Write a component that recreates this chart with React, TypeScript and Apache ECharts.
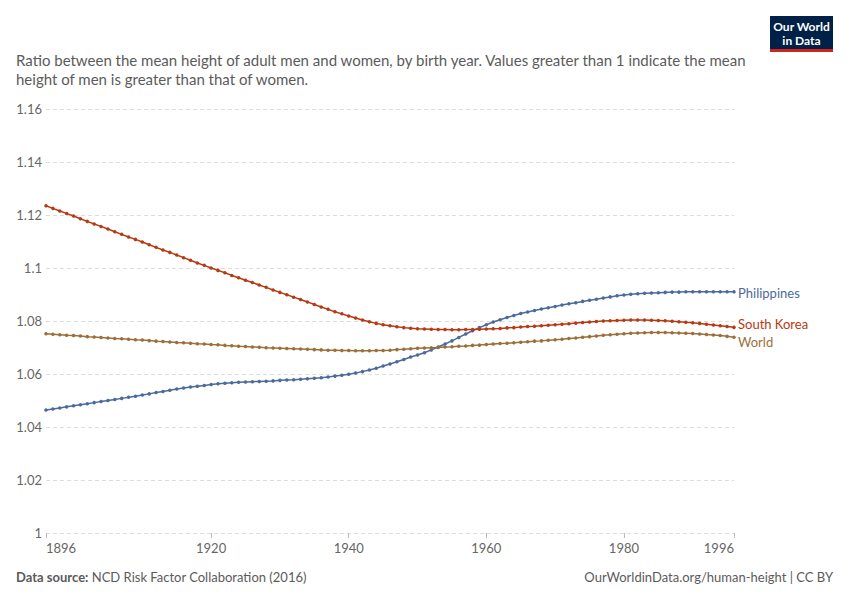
import * as echarts from 'echarts';
import { useEffect, useRef } from 'react';

const startYear = 1896;
const xTicks = [1896, 1920, 1940, 1960, 1980, 1996];

const philippines = [
  1.0464, 1.0468, 1.0472, 1.0476, 1.0480, 1.0484, 1.0488, 1.0492, 1.0496, 1.0500,
  1.0504, 1.0508, 1.0512, 1.0516, 1.0521, 1.0525, 1.0530, 1.0534, 1.0539, 1.0543,
  1.0547, 1.0551, 1.0554, 1.0557, 1.0560, 1.0563, 1.0565, 1.0567, 1.0569, 1.0570,
  1.0571, 1.0572, 1.0573, 1.0574, 1.0576, 1.0577, 1.0578, 1.0580, 1.0582, 1.0584,
  1.0586, 1.0589, 1.0592, 1.0595, 1.0599, 1.0604, 1.0609, 1.0615, 1.0622, 1.0630,
  1.0638, 1.0646, 1.0655, 1.0664, 1.0672, 1.0680, 1.0691, 1.0702, 1.0713, 1.0725,
  1.0738, 1.0751, 1.0763, 1.0775, 1.0786, 1.0796, 1.0805, 1.0813, 1.0821, 1.0828,
  1.0834, 1.0840, 1.0845, 1.0850, 1.0855, 1.0860, 1.0865, 1.0869, 1.0874, 1.0878,
  1.0882, 1.0887, 1.0891, 1.0895, 1.0898, 1.0901, 1.0903, 1.0905, 1.0906, 1.0907,
  1.0908, 1.0909, 1.0909, 1.0910, 1.0910, 1.0910, 1.0910, 1.0910, 1.0910, 1.0910,
  1.0910,
];

const southKorea = [
  1.1235, 1.1225, 1.1215, 1.1206, 1.1196, 1.1186, 1.1176, 1.1166, 1.1157, 1.1147,
  1.1137, 1.1127, 1.1117, 1.1108, 1.1098, 1.1088, 1.1078, 1.1068, 1.1059, 1.1049,
  1.1039, 1.1029, 1.1019, 1.1010, 1.1000, 1.0991, 1.0982, 1.0972, 1.0963, 1.0954,
  1.0945, 1.0936, 1.0927, 1.0917, 1.0908, 1.0899, 1.0890, 1.0881, 1.0872, 1.0862,
  1.0853, 1.0844, 1.0835, 1.0827, 1.0819, 1.0811, 1.0804, 1.0797, 1.0791, 1.0786,
  1.0782, 1.0778, 1.0775, 1.0773, 1.0771, 1.0770, 1.0769, 1.0768, 1.0768, 1.0767,
  1.0767, 1.0768, 1.0768, 1.0769, 1.0770, 1.0771, 1.0772, 1.0774, 1.0775, 1.0777,
  1.0779, 1.0780, 1.0782, 1.0784, 1.0786, 1.0788, 1.0790, 1.0792, 1.0794, 1.0796,
  1.0798, 1.0800, 1.0801, 1.0802, 1.0803, 1.0804, 1.0804, 1.0804, 1.0803, 1.0802,
  1.0801, 1.0799, 1.0797, 1.0795, 1.0793, 1.0791, 1.0788, 1.0785, 1.0782, 1.0779,
  1.0776,
];

const world = [
  1.0752, 1.0750, 1.0748, 1.0746, 1.0745, 1.0743, 1.0741, 1.0740, 1.0738, 1.0736,
  1.0734, 1.0733, 1.0731, 1.0729, 1.0728, 1.0726, 1.0724, 1.0723, 1.0721, 1.0719,
  1.0718, 1.0716, 1.0714, 1.0713, 1.0711, 1.0710, 1.0708, 1.0707, 1.0705, 1.0704,
  1.0702, 1.0701, 1.0699, 1.0698, 1.0697, 1.0696, 1.0695, 1.0694, 1.0693, 1.0692,
  1.0691, 1.0690, 1.0690, 1.0689, 1.0689, 1.0688, 1.0688, 1.0688, 1.0689, 1.0689,
  1.0690, 1.0692, 1.0693, 1.0695, 1.0697, 1.0698, 1.0699, 1.0700, 1.0702, 1.0703,
  1.0705, 1.0706, 1.0708, 1.0709, 1.0711, 1.0713, 1.0715, 1.0716, 1.0718, 1.0720,
  1.0722, 1.0724, 1.0725, 1.0727, 1.0729, 1.0731, 1.0734, 1.0736, 1.0739, 1.0741,
  1.0743, 1.0746, 1.0748, 1.0750, 1.0752, 1.0754, 1.0755, 1.0756, 1.0757, 1.0757,
  1.0757, 1.0756, 1.0755, 1.0754, 1.0753, 1.0751, 1.0749, 1.0747, 1.0745, 1.0742,
  1.0739,
];

const seriesDefs = [
  { name: 'Philippines', values: philippines, color: '#4c6a9c', labelOffset: [0, 1] },
  { name: 'South Korea', values: southKorea, color: '#b73a12', labelOffset: [0, -3.5] },
  { name: 'World', values: world, color: '#9c6f3a', labelOffset: [0, 4.5] },
];

const font = 'Lato, "Noto Sans", sans-serif';

export default function App() {
  const container = useRef<HTMLDivElement>(null);

  useEffect(() => {
    document.body.style.margin = '0';
    const element = container.current;
    if (!element) return undefined;
    const chart = echarts.init(element, undefined, { renderer: 'svg' });

    chart.setOption({
      animation: false,
      backgroundColor: '#fff',
      textStyle: { fontFamily: font },
      title: [
        {
          text: 'Ratio between the mean height of adult men and women, by birth year. Values greater than 1 indicate the mean\nheight of men is greater than that of women.',
          left: 16,
          top: 50,
          padding: 0,
          textStyle: { fontFamily: font, fontSize: 15, fontWeight: 'normal', color: '#5b5b5b', lineHeight: 19 },
        },
        {
          text: '{b|Data source:} NCD Risk Factor Collaboration (2016)',
          left: 16,
          top: 570,
          padding: 0,
          textStyle: {
            fontFamily: font, fontSize: 13, fontWeight: 'normal', color: '#5b5b5b',
            rich: { b: { fontFamily: font, fontSize: 13, fontWeight: 'bold', color: '#5b5b5b' } },
          },
        },
        {
          text: 'OurWorldinData.org/human-height | CC BY',
          right: 17,
          top: 570,
          padding: 0,
          textStyle: { fontFamily: font, fontSize: 13, fontWeight: 'normal', color: '#5b5b5b' },
        },
      ],
      graphic: [
        {
          type: 'group',
          left: 770,
          top: 16,
          children: [
            { type: 'rect', shape: { x: 0, y: 0, width: 63, height: 36 }, style: { fill: '#002147' } },
            { type: 'rect', shape: { x: 0, y: 33, width: 63, height: 3 }, style: { fill: '#ce261e' } },
            {
              type: 'text', x: 31.5, y: 10,
              style: { text: 'Our World', fill: '#fff', font: `bold 12px ${font}`, textAlign: 'center', textVerticalAlign: 'middle' },
            },
            {
              type: 'text', x: 31.5, y: 24,
              style: { text: 'in Data', fill: '#fff', font: `bold 12px ${font}`, textAlign: 'center', textVerticalAlign: 'middle' },
            },
          ],
        },
      ],
      grid: { left: 46, right: 116, top: 109, bottom: 67, containLabel: false },
      xAxis: {
        type: 'value',
        min: 1896,
        max: 1996,
        axisLine: { show: false },
        splitLine: { show: false },
        axisTick: { show: true, length: 5, lineStyle: { color: '#bbb' }, customValues: xTicks },
        axisLabel: {
          customValues: xTicks,
          color: '#666',
          fontSize: 13,
          fontFamily: font,
          margin: 8,
          alignMinLabel: 'left',
          alignMaxLabel: 'right',
          formatter: (v: number) => String(v),
        },
      },
      yAxis: {
        type: 'value',
        min: 1,
        max: 1.16,
        interval: 0.02,
        axisLine: { show: false },
        axisTick: { show: false },
        splitLine: { lineStyle: { color: '#dddddd', type: [4, 3] } },
        axisLabel: {
          color: '#666',
          fontSize: 13,
          fontFamily: font,
          margin: 4,
          formatter: (v: number) => String(Number(v.toFixed(2))),
        },
      },
      series: seriesDefs.map((s) => ({
        name: s.name,
        type: 'line',
        data: s.values.map((v, i) => [startYear + i, v]),
        symbol: 'circle',
        symbolSize: 3.5,
        showSymbol: true,
        lineStyle: { color: s.color, width: 1.5 },
        itemStyle: { color: s.color },
        emphasis: { disabled: true },
        endLabel: {
          show: true,
          formatter: '{a}',
          color: s.color,
          fontSize: 13,
          fontFamily: font,
          distance: 4,
          offset: s.labelOffset,
        },
      })),
    });

    return () => {
      chart.dispose();
    };
  }, []);

  return <div ref={container} style={{ width: 850, height: 600 }} />;
}
